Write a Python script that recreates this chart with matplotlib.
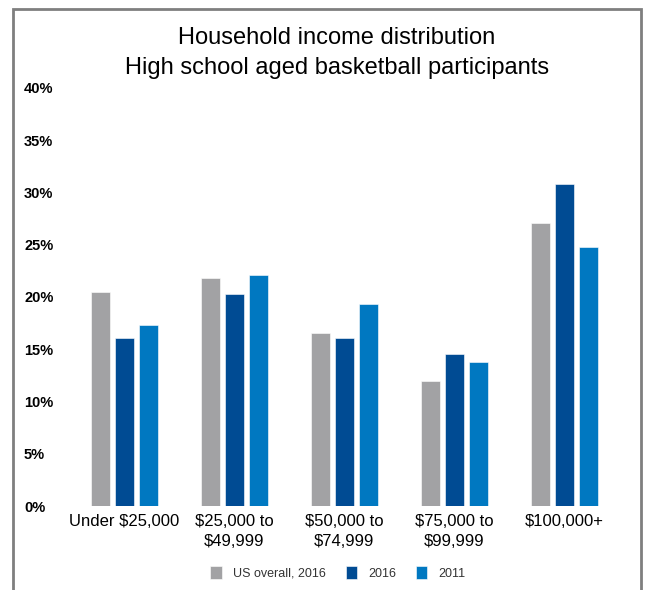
import numpy as np
import matplotlib
matplotlib.use("Agg")
import matplotlib.pyplot as plt
from matplotlib.patches import Rectangle

categories = ["Under $25,000", "$25,000 to\n$49,999", "$50,000 to\n$74,999", "$75,000 to\n$99,999", "$100,000+"]
us_overall_2016 = [20.5, 21.8, 16.6, 12.0, 27.1]
bball_2016 = [16.1, 20.3, 16.1, 14.5, 30.8]
bball_2011 = [17.3, 22.1, 19.3, 13.8, 24.8]
series_names = ["US overall, 2016", "2016", "2011"]
yticks = [0, 5, 10, 15, 20, 25, 30, 35, 40]

colors = ["#A2A2A4", "#004B93", "#0078C1"]
font = "Liberation Sans"

W, H = 647, 590
fig = plt.figure(figsize=(W / 100, H / 100), dpi=100)

# axes placed in pixels: 0% at y=506, 40% at y=88
x0_px, x1_px = 65, 625
ax = fig.add_axes([x0_px / W, 1 - 506 / H, (x1_px - x0_px) / W, (506 - 88) / H])

grp = 110.0
x = np.arange(len(categories))
bw = 19 / grp
off = 24 / grp
for i, vals in enumerate([us_overall_2016, bball_2016, bball_2011]):
    ax.bar(x + (i - 1) * off, vals, width=bw, color=colors[i],
           edgecolor="white", linewidth=0.4, label=series_names[i])

ax.set_xlim((x0_px - 124) / grp, (x1_px - 124) / grp)
ax.set_ylim(0, 40)
ax.set_yticks(yticks)
ax.set_yticklabels([f"{v}%" for v in yticks], fontsize=10.5, fontweight="bold",
                   family=font, ha="left")
ax.set_xticks(x)
ax.set_xticklabels(categories, fontsize=12, family=font, linespacing=1.35)
ax.tick_params(axis="both", length=0)
ax.tick_params(axis="y", pad=29.5)
ax.tick_params(axis="x", pad=6)
for s in ax.spines.values():
    s.set_visible(False)

fig.text(337 / W, 1 - 38 / H, "Household income distribution", ha="center", va="center",
         fontsize=17, family=font)
fig.text(337 / W, 1 - 68 / H, "High school aged basketball participants", ha="center", va="center",
         fontsize=17, family=font)

leg = fig.legend(loc="center", bbox_to_anchor=(338 / W, 1 - 573 / H), ncol=3,
                 frameon=False, prop={"family": font, "size": 9},
                 handlelength=0.9, handleheight=1.2, columnspacing=1.6, handletextpad=0.9)
for t in leg.get_texts():
    t.set_color("#333333")

# grey frame around the chart, bottom edge runs off the picture
fig.patches.append(Rectangle((13 / W, -0.05), (641 - 13) / W, 1.05 - 9 / H,
                             transform=fig.transFigure, fill=False,
                             edgecolor="#7f7f7f", linewidth=2, zorder=0))

fig.savefig("out.png", dpi=100)
